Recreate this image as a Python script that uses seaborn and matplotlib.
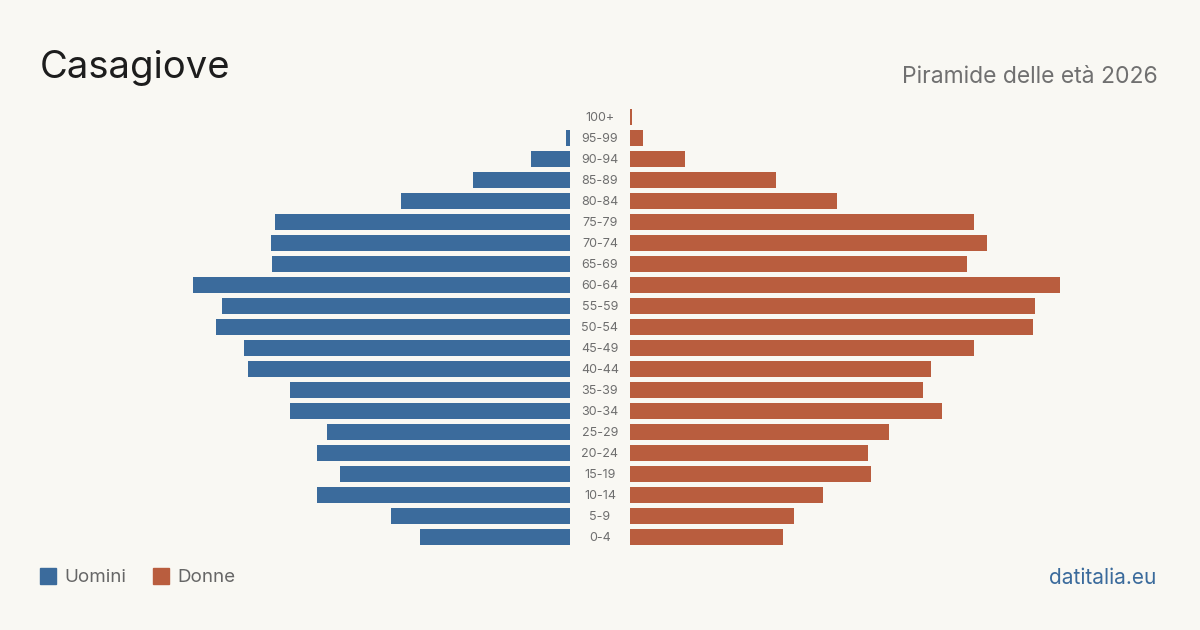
import matplotlib
matplotlib.use("Agg")
import matplotlib.pyplot as plt
import seaborn as sns
import pandas as pd
from matplotlib.patches import Rectangle

# age classes, top to bottom
eta = ["100+", "95-99", "90-94", "85-89", "80-84", "75-79", "70-74", "65-69",
       "60-64", "55-59", "50-54", "45-49", "40-44", "35-39", "30-34", "25-29",
       "20-24", "15-19", "10-14", "5-9", "0-4"]
uomini = [0, 4, 39, 97, 169, 295, 299, 298, 377, 348, 354, 326, 322, 280, 280,
          243, 253, 230, 253, 179, 150]
donne = [2, 13, 55, 146, 207, 344, 357, 337, 430, 405, 403, 344, 301, 293, 312,
         259, 238, 241, 193, 164, 153]

BG = "#f9f8f3"
BLUE = "#3b6b9c"
ORANGE = "#b95d3e"

sns.set_theme(style="white")
plt.rcParams['font.family'] = ['Inter', 'DejaVu Sans']

df = pd.DataFrame({"eta": eta, "uomini": uomini, "donne": donne})

W, H = 1200, 630
fig = plt.figure(figsize=(W / 100, H / 100), dpi=100, facecolor=BG)

top, bot = 106.5, 547.5
axL = fig.add_axes([40 / W, 1 - bot / H, 530 / W, (bot - top) / H])
axR = fig.add_axes([630 / W, 1 - bot / H, 530 / W, (bot - top) / H])

sns.barplot(data=df, y="eta", x="uomini", ax=axL, color=BLUE, width=0.8,
            orient="h", saturation=1, linewidth=0)
sns.barplot(data=df, y="eta", x="donne", ax=axR, color=ORANGE, width=0.8,
            orient="h", saturation=1, linewidth=0)

axL.set_xlim(530, 0)
axR.set_xlim(0, 530)
for ax in (axL, axR):
    ax.set_ylim(len(eta) - 0.5, -0.5)
    ax.set_facecolor("none")
    ax.axis("off")

# age labels in the middle gap
for i, lab in enumerate(eta):
    y = top + (i + 0.5) * (bot - top) / len(eta) + 1
    fig.text(600 / W, 1 - y / H, lab, ha="center", va="center",
             fontsize=9, color="#6e6e6e")

fig.text(40 / W, 1 - 68 / H, "Casagiove", fontsize=27.5, color="#1d1d1d",
         ha="left", va="center")
fig.text(1158 / W, 1 - 77 / H, "Piramide delle età 2026", fontsize=16.5,
         color="#707070", ha="right", va="center")

# legend
fig.patches.append(Rectangle((40 / W, 1 - 584 / H), 16 / W, 16 / H,
                             transform=fig.transFigure, color=BLUE))
fig.text(64 / W, 1 - 577.5 / H, "Uomini", fontsize=13.5, color="#666666",
         ha="left", va="center")
fig.patches.append(Rectangle((153 / W, 1 - 584 / H), 16 / W, 16 / H,
                             transform=fig.transFigure, color=ORANGE))
fig.text(177 / W, 1 - 577.5 / H, "Donne", fontsize=13.5, color="#666666",
         ha="left", va="center")

fig.text(1156 / W, 1 - 577.5 / H, "datitalia.eu", fontsize=15, color=BLUE,
         ha="right", va="center")

fig.savefig("out.png", dpi=100, facecolor=BG)
